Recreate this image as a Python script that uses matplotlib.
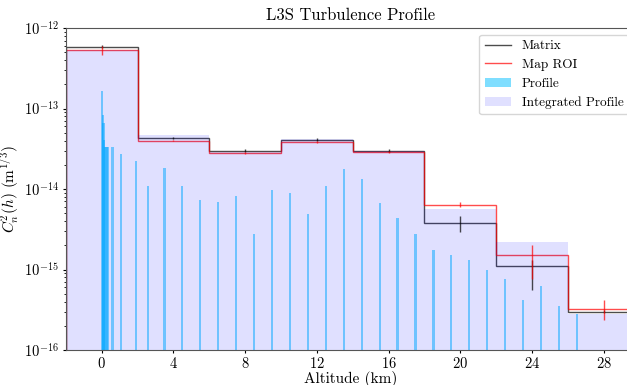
import numpy as np
import matplotlib
matplotlib.use('Agg')
import matplotlib.pyplot as plt

plt.rcParams['font.family'] = 'serif'
plt.rcParams['font.serif'] = ['cmr10', 'DejaVu Serif']
plt.rcParams['mathtext.fontset'] = 'cm'
plt.rcParams['axes.unicode_minus'] = False
plt.rcParams['axes.formatter.use_mathtext'] = True

# bin layout (km)
bin_edges = [-2, 2, 6, 10, 14, 18, 22, 26, 30]
bin_centres = [0, 4, 8, 12, 16, 20, 24, 28]

# matrix estimate + error bounds
matrix = [5.9e-13, 4.3e-14, 3.0e-14, 4.1e-14, 3.0e-14, 3.8e-15, 1.1e-15, 3.0e-16]
matrix_lo = [5.6e-13, 4.15e-14, 2.9e-14, 3.95e-14, 2.85e-14, 2.95e-15, 5.6e-16, 2.9e-16]
matrix_hi = [6.2e-13, 4.45e-14, 3.1e-14, 4.25e-14, 3.15e-14, 4.6e-15, 1.3e-15, 3.1e-16]

# map ROI estimate + error bounds
roi = [5.3e-13, 4.0e-14, 2.8e-14, 3.8e-14, 2.9e-14, 6.4e-15, 1.5e-15, 3.2e-16]
roi_lo = [4.6e-13, 3.9e-14, 2.7e-14, 3.7e-14, 2.8e-14, 5.9e-15, 7.7e-16, 2.35e-16]
roi_hi = [6.0e-13, 4.1e-14, 2.9e-14, 3.9e-14, 3.0e-14, 6.95e-15, 2.0e-15, 4.2e-16]

# profile integrated over each bin
integrated = [5.3e-13, 4.7e-14, 2.9e-14, 4.2e-14, 2.95e-14, 5.6e-15, 2.2e-15, 2.8e-16]

# input layers
layer_alt = [0.0, 0.05, 0.1, 0.15, 0.2, 0.25, 0.3, 0.35, 0.6, 1.1, 1.9, 2.6, 3.5,
             4.5, 5.5, 6.5, 7.5, 8.5, 9.5, 10.5, 11.5, 12.5, 13.5, 14.5, 15.5,
             16.5, 17.5, 18.5, 19.5, 20.5, 21.5, 22.5, 23.5, 24.5, 25.5, 26.5]
layer_cn2 = [1.66e-13, 8.3e-14, 6.7e-14, 4.1e-14, 3.3e-14, 3.3e-14, 3.3e-14, 3.3e-14,
             3.3e-14, 2.75e-14, 2.2e-14, 1.1e-14, 1.8e-14,
             1.09e-14, 7.3e-15, 6.9e-15, 8.3e-15, 2.75e-15, 9.8e-15, 9.0e-15, 4.9e-15,
             1.1e-14, 1.78e-14, 1.32e-14, 6.8e-15, 4.4e-15, 2.75e-15, 1.74e-15, 1.5e-15,
             1.3e-15, 9.8e-16, 7.6e-16, 4.2e-16, 6.3e-16, 3.5e-16, 2.8e-16]

matrix = np.array(matrix)
roi = np.array(roi)
matrix_err = [matrix - np.array(matrix_lo), np.array(matrix_hi) - matrix]
roi_err = [roi - np.array(roi_lo), np.array(roi_hi) - roi]

fig = plt.figure(figsize=(6.27, 3.85), dpi=100)
ax = fig.add_axes([0.105, 0.091, 0.908, 0.836])

ax.stairs(matrix, bin_edges, color='k', alpha=0.7, lw=1, label='Matrix')
ax.errorbar(bin_centres, matrix, yerr=matrix_err, fmt='none', ecolor='k', alpha=0.7, lw=1)
ax.stairs(roi, bin_edges, color='r', alpha=0.7, lw=1, label='Map ROI')
ax.errorbar(bin_centres, roi, yerr=roi_err, fmt='none', ecolor='r', alpha=0.7, lw=1)
ax.bar(layer_alt, layer_cn2, width=0.12, color='deepskyblue', alpha=0.5, label='Profile')
ax.bar(bin_centres, integrated, width=4, color='blue', alpha=0.12, label='Integrated Profile')

ax.set_yscale('log')
ax.set_ylim(1e-16, 1e-12)
ax.set_xlim(-2, 29.75)
ax.set_xticks([0, 4, 8, 12, 16, 20, 24, 28])
ax.set_xlabel('Altitude (km)', fontsize=11, labelpad=0)
ax.set_ylabel(r'$C_n^2(h)$ $(\mathrm{m}^{1/3})$', fontsize=11, labelpad=2)
ax.set_title('L3S Turbulence Profile', fontsize=12)
ax.tick_params(which='major', labelsize=10.5, length=2.5, pad=2.5)
ax.tick_params(axis='x', which='major', pad=2)
ax.tick_params(which='minor', length=1.5)
for s in ax.spines.values():
    s.set_color('#555555')
ax.legend(loc='upper right', fontsize=9.5)

plt.savefig('out.png', dpi=100)
